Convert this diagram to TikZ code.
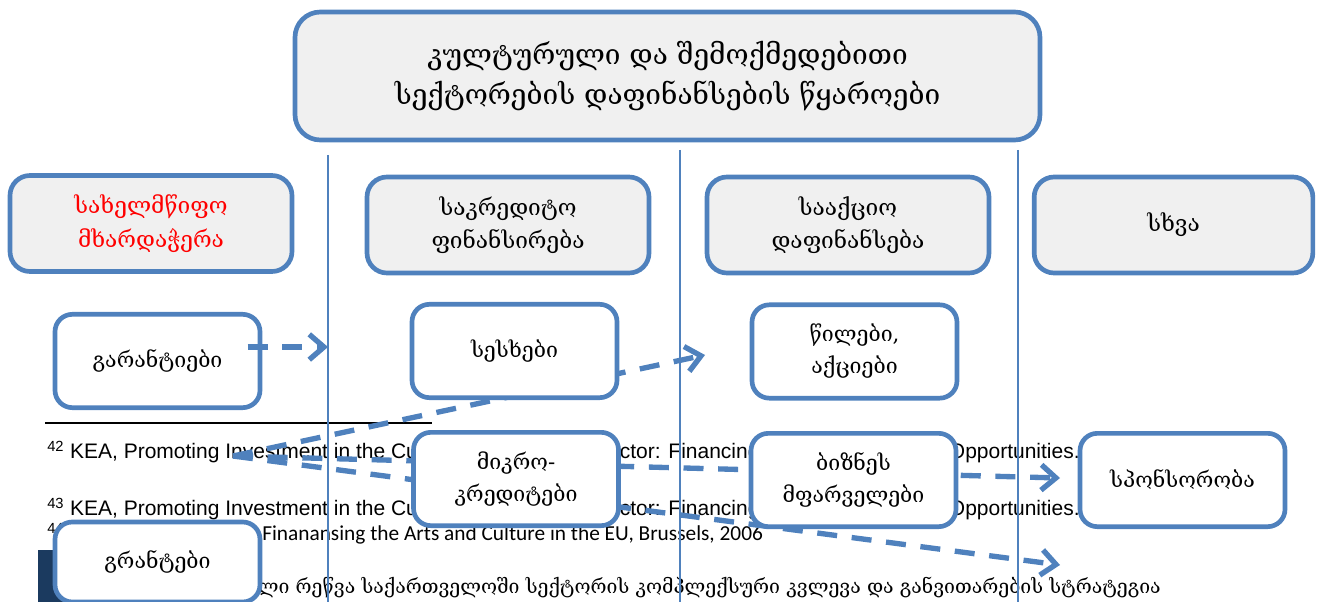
\documentclass[tikz,border=0pt]{standalone}
\usepackage{fontspec}
\setmainfont{Liberation Sans}
\newfontfamily\geofont{DejaVu Serif}
\newfontfamily\notefont{Carlito}
\usetikzlibrary{arrows.meta}
\definecolor{boxblue}{HTML}{4F81BD}
\definecolor{boxgray}{HTML}{F0F0F0}
\definecolor{navyband}{HTML}{1B3A5F}

\begin{document}
\begin{tikzpicture}[x=0.75pt,y=-0.75pt,
    titlebox/.style={draw=boxblue, line width=3.5pt, fill=boxgray, rounded corners=19pt, align=center,
      minimum width=558.75pt, minimum height=96pt, font=\geofont\fontsize{21}{30}\selectfont},
    headbox/.style={draw=boxblue, line width=3.5pt, fill=boxgray, rounded corners=15pt, align=center,
      minimum width=211.5pt, minimum height=72pt, font=\geofont\fontsize{17}{25}\selectfont},
    itembox/.style={draw=boxblue, line width=3.5pt, fill=white, rounded corners=13pt, align=center,
      minimum width=153.75pt, minimum height=70pt, font=\geofont\fontsize{16}{24}\selectfont},
    flow/.style={draw=boxblue, line width=4pt, dash pattern=on 15pt off 11pt,
      -{Straight Barb[length=11pt,width=19pt]}},
    sep/.style={draw=boxblue, line width=1pt},
    note/.style={anchor=base west, inner sep=0pt, font=\fontsize{15.75}{18}\selectfont}]

    \useasboundingbox (0,0) rectangle (1317,602);
    \clip (0,0) rectangle (1317,602);

    % page underneath
    \fill[navyband] (38,550) rectangle (80,602);
    \draw[line width=1.2pt] (45,423) -- (432,423);
    \node[note] (fnA) at (47,458) {\textsuperscript{42} KEA, Promoting Investment in the Cultural and Creative Sector: Financing Needs, Trends and Opportunities.};
    \node[note] (fnB) at (47,515) {\textsuperscript{43} KEA, Promoting Investment in the Cultural and Creative Sector: Financing Needs, Trends and Opportunities.};
    \node[note] (fnC) at (47,540) {\textsuperscript{44}};
    \node[note, font=\notefont\fontsize{16}{18}\selectfont] (fnD) at (262,540) {Finanansing the Arts and Culture in the EU, Brussels, 2006};
    \node[note, font=\geofont\fontsize{14.6}{17}\selectfont] (body) at (244,593) {ული რეწვა საქართველოში სექტორის კომპლექსური კვლევა და განვითარების სტრატეგია};

    % dashed flows behind the boxes
    \coordinate (src) at (233,456);
    \coordinate (tipA) at (705,355);
    \coordinate (tipB) at (1060,478);
    \coordinate (tipC) at (1060,565);
    \coordinate (tipG) at (328,347);
    \draw[flow] (src) -- (tipA);
    \draw[flow] (src) -- (tipB);
    \draw[flow] (src) -- (tipC);

    % column rules
    \draw[sep] (328,155) -- (328,602);
    \draw[sep] (680,150) -- (680,602);
    \draw[sep] (1018,150) -- (1018,602);

    \node[titlebox] (title) at (667.5,76) {კულტურული და შემოქმედებითი\\სექტორების დაფინანსების წყაროები};

    \node[headbox, text=red] (state) at (151,223.5) {სახელმწიფო\\მხარდაჭერა};
    \node[headbox] (credit) at (508,225) {საკრედიტო\\ფინანსირება};
    \node[headbox] (equity) at (848,225) {სააქციო\\დაფინანსება};
    \node[headbox, minimum width=209pt] (other) at (1173.5,225) {სხვა};

    \node[itembox] (guar) at (157.5,361) {გარანტიები};
    \node[itembox] (loans) at (514.5,351) {სესხები};
    \node[itembox] (shares) at (854.5,351.5) {წილები,\\აქციები};
    \node[itembox] (micro) at (516,479) {მიკრო-\\კრედიტები};
    \node[itembox] (angel) at (853.5,480) {ბიზნეს\\მფარველები};
    \node[itembox] (spons) at (1182.5,480) {სპონსორობა};
    \node[itembox, minimum height=60pt] (grants) at (157.5,562) {გრანტები};

    \draw[flow] ([xshift=-11pt]guar.east |- tipG) -- (tipG);

\end{tikzpicture}
\end{document}
